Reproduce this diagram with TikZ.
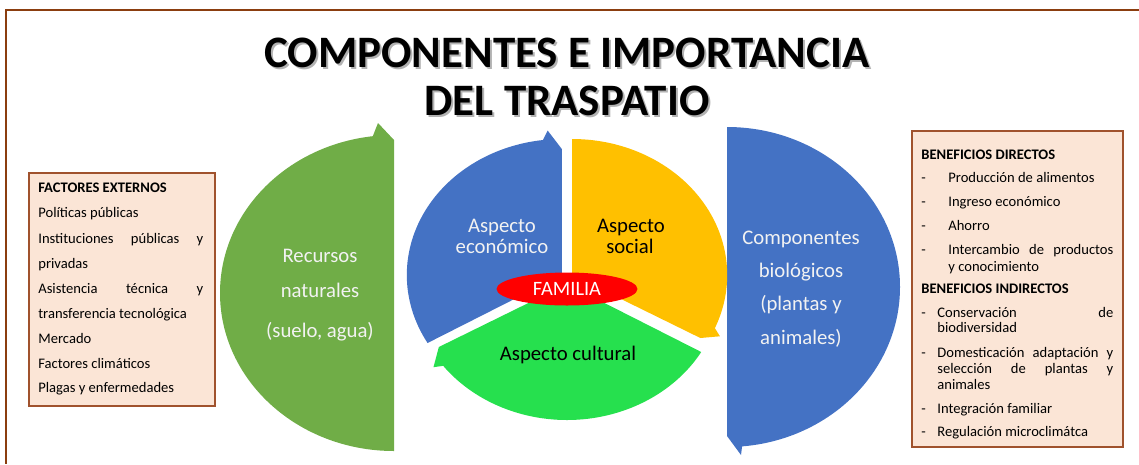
\documentclass[tikz,border=0pt]{standalone}
\usepackage{fontspec}
\setmainfont{Carlito}
\usetikzlibrary{shapes.geometric}

\definecolor{frameC}{HTML}{8B3E0F}
\definecolor{boxFill}{HTML}{FBE5D6}
\definecolor{boxLine}{HTML}{A0522D}
\definecolor{greenR}{HTML}{70AD47}
\definecolor{blueB}{HTML}{4472C4}
\definecolor{yellowS}{HTML}{FFC000}
\definecolor{greenC}{HTML}{26E04E}
\definecolor{redF}{HTML}{FF0000}
\definecolor{paleT}{HTML}{F2F2F2}

\newcommand{\dashgap}[1]{\llap{-\hspace{#1}}}

\begin{document}
\begin{tikzpicture}[x=0.02cm,y=0.02cm,
  frameline/.style={draw=frameC,line width=1.1pt},
  infobox/.style={rectangle,fill=boxFill,draw=boxLine,line width=0.8pt,inner sep=0pt},
  boxtxt/.style={anchor=mid west,inner sep=0pt,font=\fontsize{8.3}{10}\selectfont},
  boxhead/.style={boxtxt,font=\fontsize{8.3}{10}\selectfont\bfseries},
  bigtxt/.style={anchor=mid,inner sep=0pt,font=\fontsize{11.8}{13}\selectfont},
  titletxt/.style={anchor=mid,inner sep=0pt,font=\fontsize{25.6}{30}\selectfont\bfseries}]
\useasboundingbox (0,0) rectangle (1139,-464);
\def\ry{136};

% marco
\draw[frameline] (1139,-10) -- (6,-10) -- (6,-464);

% titulo
\node[titletxt,text=black!30] (tshadow1) at (569,-65) {COMPONENTES E IMPORTANCIA};
\node[titletxt,text=black!30] (tshadow2) at (569,-113) {DEL TRASPATIO};
\node[titletxt] (title1) at (567,-63) {COMPONENTES E IMPORTANCIA};
\node[titletxt] (title2) at (567,-111) {DEL TRASPATIO};

% recursos naturales / componentes biologicos
\fill[greenR] (394,-451) arc[start angle=270,end angle=97,x radius=174,y radius=158]
  -- (378,-123) -- (394,-140) -- cycle;
\fill[blueB] (727,-436) -- (727,-127) arc[start angle=90,end angle=-85,x radius=173,y radius=160]
  -- (741,-455) -- cycle;

% ciclo central
\begin{scope}[shift={(561.8,-275)}]
\fill[blueB] (0,0) -- (210:155 and \ry) arc[start angle=210,end angle=97,x radius=155,y radius=\ry]
  -- (95:162 and 145) -- (90:148 and 126) -- cycle;
\end{scope}
\begin{scope}[shift={(572.2,-275)}]
\fill[yellowS] (0,0) -- (90:155 and \ry) arc[start angle=90,end angle=-23,x radius=155,y radius=\ry]
  -- (-25:163 and 145) -- (-30:148 and 126) -- cycle;
\end{scope}
\begin{scope}[shift={(567,-284)}]
\fill[greenC] (0,0) -- (-30:155 and \ry) arc[start angle=-30,end angle=-143,x radius=155,y radius=\ry]
  -- (-145:163 and 145) -- (-150:148 and 126) -- cycle;
\end{scope}

\node[ellipse,fill=redF,minimum width=2.82cm,minimum height=0.66cm,inner sep=0pt,text=white,
  font=\fontsize{11.6}{12}\selectfont] (fam) at (567,-289) {FAMILIA};

\node[bigtxt,text=paleT] (rn1) at (320,-258) {Recursos};
\node[bigtxt,text=paleT] (rn2) at (320,-293) {naturales};
\node[bigtxt,text=paleT] (rn3) at (320,-333) {(suelo, agua)};
\node[bigtxt,text=paleT] (cb1) at (801,-240) {Componentes};
\node[bigtxt,text=paleT] (cb2) at (801,-273) {biológicos};
\node[bigtxt,text=paleT] (cb3) at (801,-306) {(plantas y};
\node[bigtxt,text=paleT] (cb4) at (801,-340) {animales)};
\node[bigtxt,text=paleT] (ae1) at (502,-228) {Aspecto};
\node[bigtxt,text=paleT] (ae2) at (502,-249) {económico};
\node[bigtxt] (as1) at (631,-228) {Aspecto};
\node[bigtxt] (as2) at (630,-249) {social};
\node[bigtxt] (ac) at (568,-356) {Aspecto cultural};

% factores externos
\node[infobox,minimum width=3.72cm,minimum height=4.66cm] (fbox) at (122,-289.5) {};
\node[boxhead] (fhead) at (38,-188) {FACTORES EXTERNOS};
\foreach \y/\t [count=\i] in {213/{Políticas públicas},
  239/{\makebox[3.3cm][s]{Instituciones públicas y}},
  264/{privadas},
  289/{\makebox[3.3cm][s]{Asistencia técnica y}},
  314/{transferencia tecnológica},
  339/{Mercado},
  364/{Factores climáticos},
  388/{Plagas y enfermedades}}
  \node[boxtxt] (f\i) at (38,-\y) {\t};

% beneficios
\node[infobox,minimum width=4.22cm,minimum height=6.32cm] (bbox) at (1017.5,-289) {};
\node[boxhead] (bdhead) at (921,-155) {BENEFICIOS DIRECTOS};
\foreach \y/\t [count=\i] in {178/{\dashgap{0.45cm}Producción de alimentos},
  202/{\dashgap{0.45cm}Ingreso económico},
  226/{\dashgap{0.45cm}Ahorro},
  250/{\dashgap{0.45cm}\makebox[3.3cm][s]{Intercambio de productos}},
  267/{y conocimiento}}
  \node[boxtxt] (bd\i) at (948,-\y) {\t};
\node[boxhead] (bihead) at (921,-289) {BENEFICIOS INDIRECTOS};
\foreach \y/\t [count=\i] in {313/{\dashgap{0.23cm}\makebox[3.52cm][s]{Conservación de}},
  328/{biodiversidad},
  353/{\dashgap{0.23cm}\makebox[3.52cm][s]{Domesticación adaptación y}},
  369/{\makebox[3.52cm][s]{selección de plantas y}},
  385/{animales},
  409/{\dashgap{0.23cm}Integración familiar},
  432/{\dashgap{0.23cm}Regulación microclimátca}}
  \node[boxtxt] (bi\i) at (937,-\y) {\t};
\end{tikzpicture}
\end{document}
